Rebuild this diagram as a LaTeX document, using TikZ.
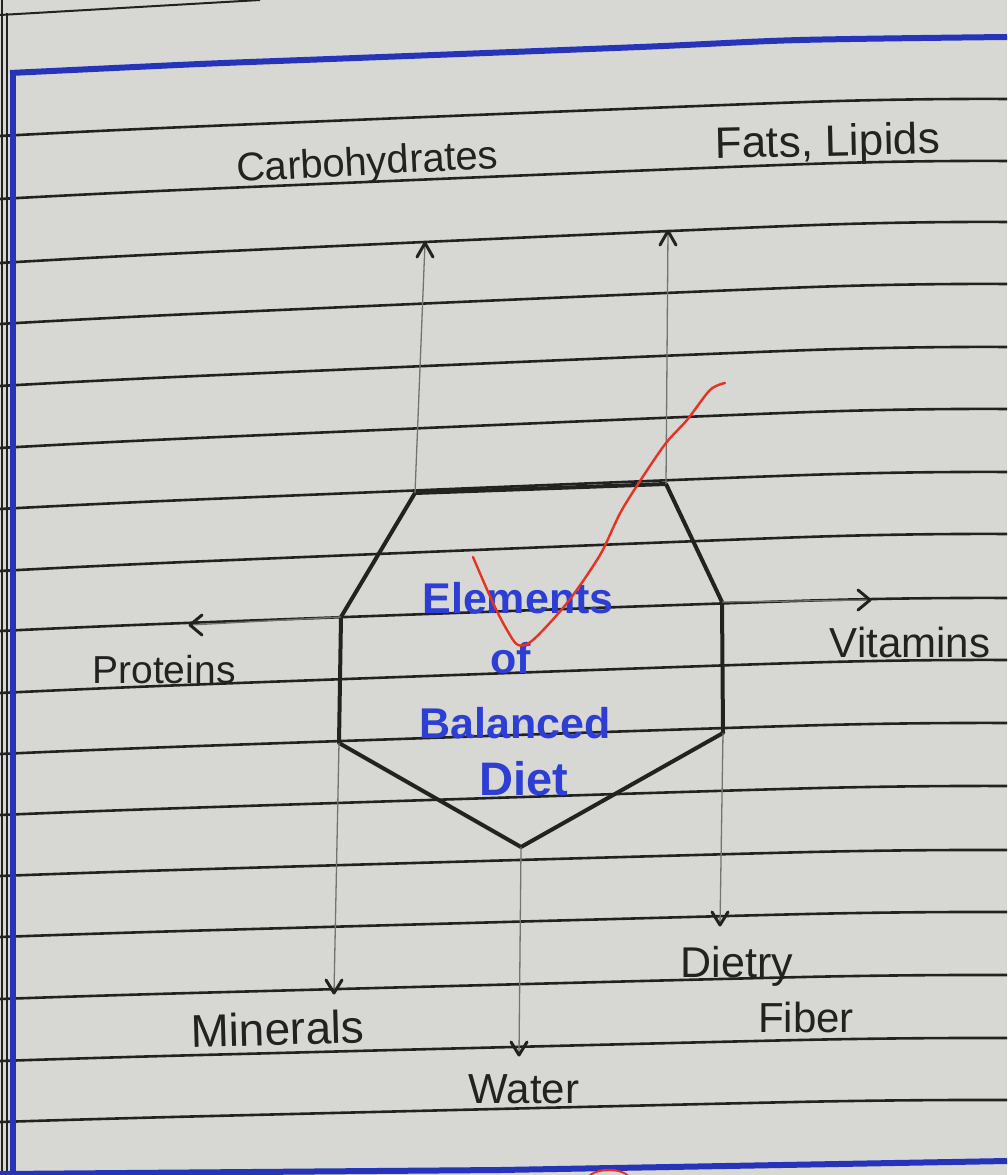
\documentclass[tikz,border=0pt]{standalone}
\usepackage{fontspec}
\setmainfont{Liberation Sans}
\usetikzlibrary{calc}
\definecolor{paper}{RGB}{215,215,212}
\definecolor{ruleink}{RGB}{34,34,32}
\definecolor{marginblue}{RGB}{38,52,185}
\definecolor{inkblue}{RGB}{45,62,212}
\definecolor{tickred}{RGB}{230,50,34}
\definecolor{pencil}{RGB}{115,115,112}
\begin{document}
\begin{tikzpicture}[x=1pt,y=-1pt,
  ruledline/.style={draw=ruleink,line width=2.6pt},
  hept/.style={draw=ruleink,line width=4pt,line join=round},
  conn/.style={draw=pencil,line width=1.3pt},
  head/.style={draw=ruleink,line width=3pt,line cap=round,line join=round},
  lbl/.style={text=ruleink,inner sep=0pt,anchor=base,font=\fontsize{42}{50}\selectfont},
  ttl/.style={text=inkblue,inner sep=0pt,anchor=base,font=\fontsize{43}{50}\selectfont\bfseries},
  tick/.style={draw=tickred,line width=2.4pt,line cap=round}]
\fill[paper] (0,0) rectangle (1007,1175);
\useasboundingbox (0,0) rectangle (1007,1175);
% ruled lines
\foreach \L/\R in {136/99,199/161,263/222,324/284,386/347,448/409,509/472,571/534,631/598,693/660,754/723,815/786,876/850,937/912,999/975,1061/1038,1122/1100}{
  \pgfmathsetmacro\D{\L-\R}
  \pgfmathsetmacro\ya{\L-0.26*\D}
  \pgfmathsetmacro\yb{\L-0.92*\D}
  \draw[ruledline] plot[smooth,tension=0.5] coordinates {(0,\L) (200,\ya) (807,\yb) (1007,\R)};
}
% page edges and margins
\draw[ruleink,line width=1.6pt] (2,0) -- (2,1175);
\draw[ruleink,line width=1.8pt] (7,13) -- (7,1175);
\draw[ruleink,line width=2pt] (0,15) -- (260,0);
\draw[marginblue,line width=6pt] (12.5,70) -- (12.5,1175);
\draw[marginblue,line width=6pt] plot[smooth,tension=0.5] coordinates {(10,73) (200,64) (330,59) (640,47) (800,40) (1007,37)};
\draw[marginblue,line width=6pt] (0,1174) -- (500,1170) -- (1007,1161);
\draw[tickred,line width=2pt] (586,1180) .. controls (592,1167) and (624,1166) .. (632,1180);
% heptagon
\coordinate (v1) at (415,493);
\coordinate (v2) at (666,484);
\coordinate (v3) at (722,602);
\coordinate (v4) at (723,733);
\coordinate (v5) at (521,847);
\coordinate (v6) at (339,743);
\coordinate (v7) at (341,617);
\draw[hept] (v1) -- (v2) -- (v3) -- (v4) -- (v5) -- (v6) -- (v7) -- cycle;
% arrow tips
\coordinate (tCarb) at (425,243);
\coordinate (tFats) at (668,231);
\coordinate (tProt) at (190,625);
\coordinate (tVit) at (870,600);
\coordinate (tMin) at (334,993);
\coordinate (tWat) at (519,1055);
\coordinate (tFib) at (720,925);
\draw[conn] (v1) -- (tCarb);
\draw[conn] (v2) -- (tFats);
\draw[conn] (v7) -- (tProt);
\draw[conn] (v3) -- (tVit);
\draw[conn] (v6) -- (tMin);
\draw[conn] (v5) -- (tWat);
\draw[conn] (v4) -- (tFib);
% arrowheads
\draw[head] ($(tCarb)+(-8,14)$) -- (tCarb) -- ($(tCarb)+(8,14)$);
\draw[head] ($(tFats)+(-8,14)$) -- (tFats) -- ($(tFats)+(8,14)$);
\draw[head] ($(tProt)+(12,-10)$) -- (tProt) -- ($(tProt)+(12,10)$);
\draw[head] ($(tVit)+(-12,-10)$) -- (tVit) -- ($(tVit)+(-12,10)$);
\draw[head] ($(tMin)+(-8,-13)$) -- (tMin) -- ($(tMin)+(8,-13)$);
\draw[head] ($(tWat)+(-8,-13)$) -- (tWat) -- ($(tWat)+(8,-13)$);
\draw[head] ($(tFib)+(-8,-13)$) -- (tFib) -- ($(tFib)+(8,-13)$);
% labels
\node[lbl,rotate=3,font=\fontsize{40}{48}\selectfont] (carb) at (368,175) {Carbohydrates};
\node[lbl,rotate=1.3,font=\fontsize{44}{50}\selectfont] (fats) at (828,156) {Fats, Lipids};
\node[lbl,font=\fontsize{39}{48}\selectfont] (prot) at (164,683) {Proteins};
\node[lbl] (vit) at (910,657) {Vitamins};
\node[lbl,rotate=1.6,font=\fontsize{46}{50}\selectfont] (min) at (278,1045) {Minerals};
\node[lbl] (wat) at (524,1103) {Water};
\node[lbl,font=\fontsize{43}{50}\selectfont] (diet) at (737,977) {Dietry};
\node[lbl] (fib) at (806,1032) {Fiber};
% title
\node[ttl] (title1) at (518,613) {Elements};
\node[ttl] (title2) at (511,673) {of};
\node[ttl] (title3) at (515,738) {Balanced};
\node[ttl,font=\fontsize{47}{50}\selectfont\bfseries] (title4) at (524,795) {Diet};
% red tick
\draw[tick] plot[smooth,tension=0.5] coordinates {(473,557) (493,603) (507,630) (518,645) (533,640) (567,603) (600,555) (623,508) (663,447) (687,420) (710,390) (725,383)};
\end{tikzpicture}
\end{document}
